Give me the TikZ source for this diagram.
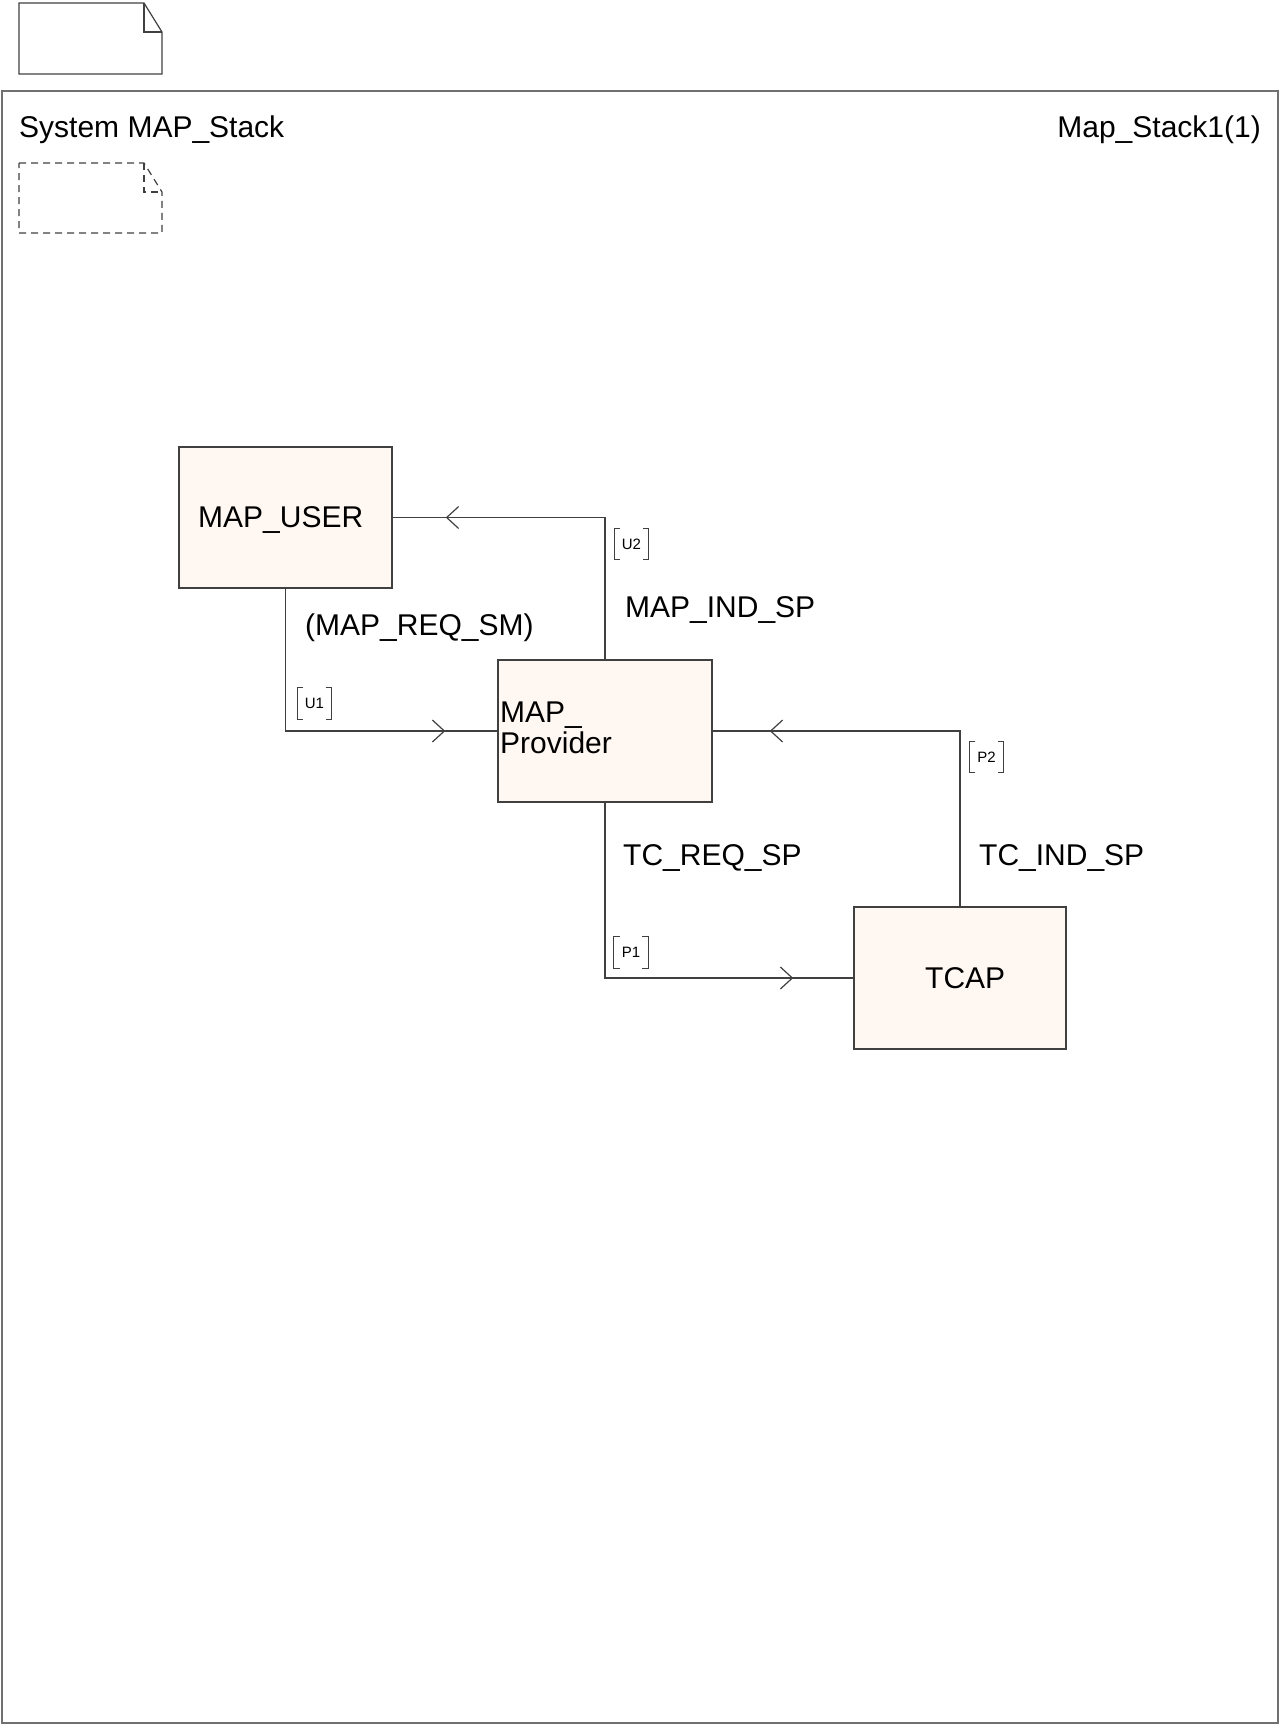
\documentclass[tikz,border=0pt]{standalone}
\usepackage{fontspec}
\setmainfont{Liberation Sans}
\usetikzlibrary{calc}
\definecolor{boxfill}{HTML}{FFF8F2}
\definecolor{linecol}{HTML}{404040}
\definecolor{framecol}{HTML}{707070}
\tikzset{
  lbl/.style={inner sep=0pt, font=\fontsize{30}{31}\selectfont},
  blockbox/.style={draw=linecol, fill=boxfill, line width=1.3pt, inner sep=0pt},
  conn/.style={draw=linecol, line width=1.2pt},
  chev/.style={draw=linecol, line width=1.2pt},
  portlbl/.style={inner sep=0pt, minimum width=34pt, minimum height=31pt, font=\fontsize{15}{15}\selectfont},
  notebox/.style={draw=linecol, line width=1.2pt},
}
\newcommand\brackets[1]{%
  \draw[linecol, line width=1.1pt] ($(#1.north west)+(6,0)$) -- (#1.north west) -- (#1.south west) -- ($(#1.south west)+(6,0)$);
  \draw[linecol, line width=1.1pt] ($(#1.north east)+(-6,0)$) -- (#1.north east) -- (#1.south east) -- ($(#1.south east)+(-6,0)$);
}
\begin{document}
\begin{tikzpicture}[x=1pt, y=-1pt]
\useasboundingbox (0,0) rectangle (1279,1725);
% top note symbol
\draw[notebox] (19,3) -- (144,3) -- (162,32) -- (162,74) -- (19,74) -- cycle;
\draw[notebox] (144,3) -- (144,32) -- (162,32);
% frame
\draw[draw=framecol, line width=1.4pt] (2,91) rectangle (1278,1723);
\node[lbl, anchor=base west] (systitle) at (19,137) {System MAP\_Stack};
\node[lbl, anchor=base east] (pagetitle) at (1261,137) {Map\_Stack1(1)};
% dashed note symbol
\draw[notebox, dashed, dash pattern=on 7pt off 5pt] (19,163) -- (144,163) -- (162,192) -- (162,233) -- (19,233) -- cycle;
\draw[notebox, dashed, dash pattern=on 7pt off 5pt] (144,163) -- (144,192) -- (162,192);
% blocks
\node[blockbox, minimum width=213pt, minimum height=141pt] (user) at (285.5,517.5) {};
\node[blockbox, minimum width=214pt, minimum height=142pt] (provider) at (605,731) {};
\node[blockbox, minimum width=212pt, minimum height=142pt] (tcap) at (960,978) {};
\node[lbl, anchor=base west] (usertxt) at (198,527) {MAP\_USER};
\node[lbl, anchor=base west] (provtxt1) at (500,722) {MAP\_};
\node[lbl, anchor=base west] (provtxt2) at (500,753) {Provider};
\node[lbl, anchor=base west] (tcaptxt) at (925,988) {TCAP};
% connectors
\draw[conn] (user.south) |- (provider.west);
\draw[conn] (provider.north) |- (user.east);
\draw[conn] (provider.south) |- (tcap.west);
\draw[conn] (tcap.north) |- (provider.east);
% open arrowheads
\draw[chev] ($(provider.west)+(-65,-11)$) -- ($(provider.west)+(-53,0)$) -- ($(provider.west)+(-65,11)$);
\draw[chev] ($(user.east)+(66,-11)$) -- ($(user.east)+(54,0)$) -- ($(user.east)+(66,11)$);
\draw[chev] ($(tcap.west)+(-73,-11)$) -- ($(tcap.west)+(-61,0)$) -- ($(tcap.west)+(-73,11)$);
\draw[chev] ($(provider.east)+(70,-11)$) -- ($(provider.east)+(58,0)$) -- ($(provider.east)+(70,11)$);
% port labels
\node[portlbl] (u1) at (314.5,703.5) {U1}; \brackets{u1}
\node[portlbl] (u2) at (631.5,544) {U2}; \brackets{u2}
\node[portlbl] (p1) at (631,952.5) {P1}; \brackets{p1}
\node[portlbl] (p2) at (986.5,757) {P2}; \brackets{p2}
% signal labels
\node[lbl, anchor=base west] (reqsm) at (305,635) {(MAP\_REQ\_SM)};
\node[lbl, anchor=base west] (indsp) at (625,617) {MAP\_IND\_SP};
\node[lbl, anchor=base west] (tcreq) at (623,865) {TC\_REQ\_SP};
\node[lbl, anchor=base west] (tcind) at (979,865) {TC\_IND\_SP};
\end{tikzpicture}
\end{document}
